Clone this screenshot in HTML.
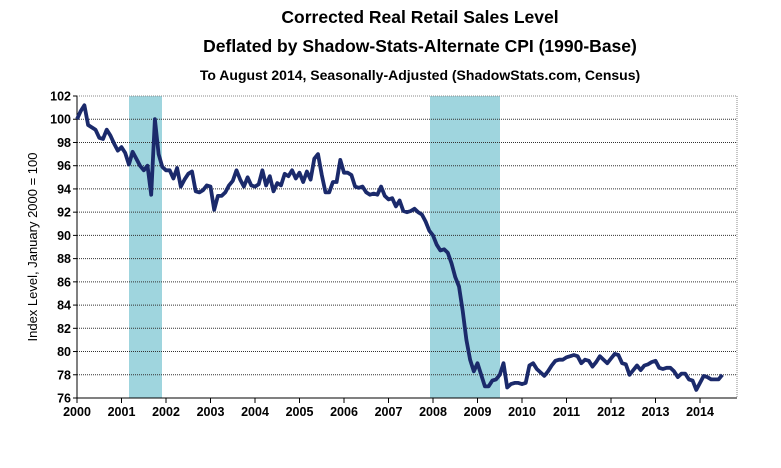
<!DOCTYPE html><html><head><style>body{margin:0;background:#fff}svg{font-family:"Liberation Sans",Arial,sans-serif}</style></head><body>
<svg id="s" width="781" height="463" xmlns="http://www.w3.org/2000/svg">
<text x="420" y="23" text-anchor="middle" font-size="17.5" font-weight="bold">Corrected Real Retail Sales Level</text>
<text x="420" y="52" text-anchor="middle" font-size="17.5" font-weight="bold">Deflated by Shadow-Stats-Alternate  CPI (1990-Base)</text>
<text x="420" y="80" text-anchor="middle" font-size="14" font-weight="bold">To August 2014, Seasonally-Adjusted (ShadowStats.com, Census)</text>
<text transform="translate(37,247) rotate(-90)" text-anchor="middle" font-size="13">Index Level, January 2000 = 100</text>
<rect x="129" y="96" width="33" height="302" fill="#9fd5de"/>
<rect x="430" y="96" width="70" height="302" fill="#9fd5de"/>
<g id="g"></g>
<line x1="77" y1="96" x2="77" y2="398" stroke="#000"/>
<line x1="77" y1="398" x2="737" y2="398" stroke="#000"/>
<line x1="737" y1="96" x2="737" y2="398" stroke="#888" stroke-dasharray="1,1"/>
<line x1="77" y1="96" x2="737" y2="96" stroke="#888" stroke-dasharray="1,1"/>
<polyline id="p" fill="none" stroke="#1b2a6b" stroke-width="3.8" stroke-linejoin="round"/>
</svg>
<script>
var g=document.getElementById('g'),h='';
function Y(v){return 398-(v-76)*11.615}function X(t){return 77+44.5*(t-2000)}
for(var v=76;v<=102;v+=2){var y=Y(v);if(v>76&&v<102)h+='<line x1="77" y1="'+y+'" x2="737" y2="'+y+'" stroke="#333" stroke-dasharray="1,1"/>';
h+='<line x1="73" y1="'+y+'" x2="77" y2="'+y+'" stroke="#000"/><text x="71" y="'+(y+4.5)+'" text-anchor="end" font-size="12.5" font-weight="bold">'+v+'</text>';}
for(var yr=2000;yr<=2014;yr++){var x=X(yr);h+='<line x1="'+x+'" y1="398" x2="'+x+'" y2="403" stroke="#000"/><text x="'+x+'" y="416" text-anchor="middle" font-size="12.5" font-weight="bold">'+yr+'</text>';}
g.innerHTML=h;
var d=[100,100.7,101.2,99.5,99.3,99.1,98.4,98.3,99.1,98.6,97.9,97.3,97.6,97.1,96.1,97.2,96.6,96.0,95.6,96.0,93.5,100.0,97.0,95.9,95.6,95.6,94.9,95.8,94.2,94.8,95.3,95.5,93.8,93.7,93.9,94.3,94.2,92.2,93.4,93.4,93.7,94.3,94.7,95.6,94.8,94.2,95.0,94.3,94.2,94.4,95.6,94.3,95.1,93.8,94.5,94.3,95.3,95.1,95.6,94.9,95.4,94.6,95.5,94.8,96.6,97.0,95.2,93.7,93.7,94.6,94.6,96.5,95.4,95.4,95.2,94.2,94.1,94.2,93.7,93.5,93.6,93.5,94.2,93.4,93.1,93.2,92.5,93.0,92.1,92.0,92.1,92.3,92.0,91.8,91.2,90.4,90.0,89.2,88.7,88.8,88.5,87.6,86.4,85.6,83.5,81.0,79.3,78.3,79.0,78.0,77.0,77.0,77.5,77.6,78.0,79.0,76.9,77.2,77.3,77.3,77.2,77.3,78.8,79.0,78.5,78.2,77.9,78.3,78.8,79.2,79.3,79.3,79.5,79.6,79.7,79.6,79.0,79.3,79.2,78.7,79.1,79.6,79.3,79.0,79.4,79.8,79.7,79.0,78.9,78.0,78.4,78.8,78.4,78.8,78.9,79.1,79.2,78.6,78.5,78.6,78.6,78.3,77.8,78.1,78.1,77.6,77.5,76.7,77.3,77.9,77.8,77.6,77.6,77.6,78.0];
var pts=d.map(function(v,i){return X(2000+i/12).toFixed(1)+','+Y(v).toFixed(1)}).join(' ');
document.getElementById('p').setAttribute('points',pts);
</script></body></html>
